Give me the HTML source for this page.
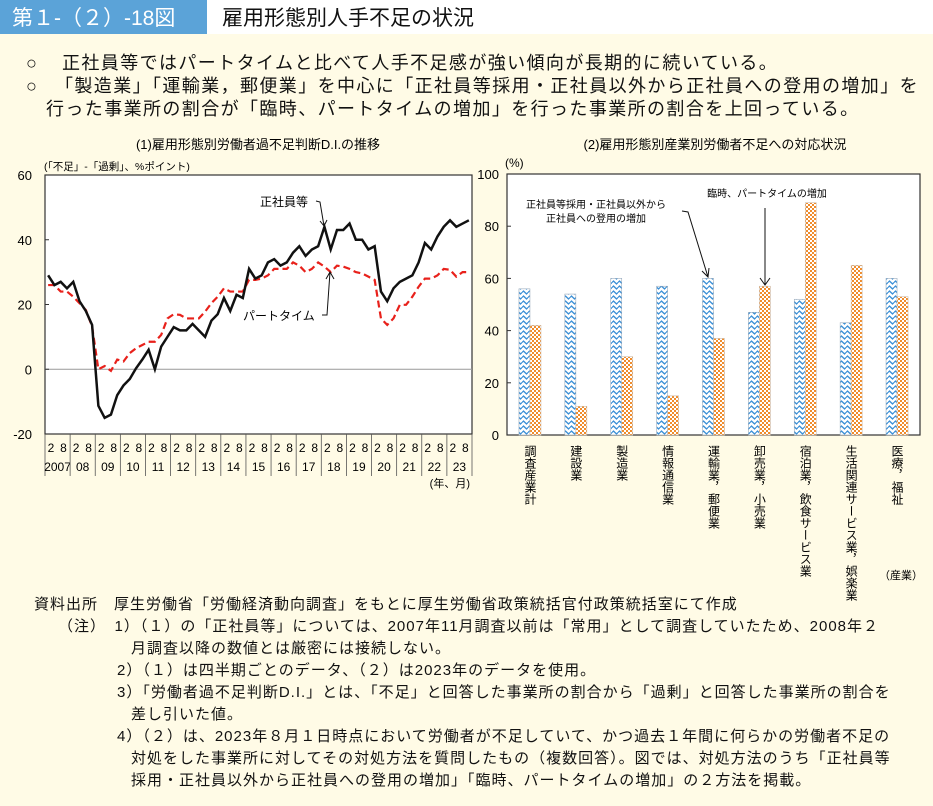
<!DOCTYPE html>
<html><head><meta charset="utf-8"><style>
body{margin:0;background:#fffbe6;}
svg{display:block;font-family:"Liberation Sans","Noto Sans CJK JP",sans-serif;}
</style></head><body>
<svg id="svg" width="933" height="806" viewBox="0 0 933 806" xmlns="http://www.w3.org/2000/svg">
<defs>
<pattern id="wave" width="6" height="5" patternUnits="userSpaceOnUse">
<rect width="6" height="5" fill="#fff"/>
<path d="M0,2.5 L1.5,1 L3,2.5 L4.5,4 L6,2.5" stroke="#3a8fd6" stroke-width="1.3" fill="none"/>
</pattern>
<pattern id="check" width="4" height="4" patternUnits="userSpaceOnUse">
<rect width="4" height="4" fill="#fff"/>
<rect width="2" height="2" fill="#f08c2c"/><rect x="2" y="2" width="2" height="2" fill="#f08c2c"/>
</pattern>
</defs>
<rect width="933" height="806" fill="#fffbe6"/>
<rect x="0" y="0" width="207" height="34" fill="#5ba3d8"/>
<rect x="207" y="0" width="726" height="34" fill="#fff"/>
<text x="12" y="25" font-size="21" fill="#fff">第１-（２）-18図</text>
<text x="222" y="25" font-size="21" fill="#111">雇用形態別人手不足の状況</text>
<g font-size="18" fill="#111" letter-spacing="1.4">
<text x="26" y="69">○</text>
<text x="62" y="69">正社員等ではパートタイムと比べて人手不足感が強い傾向が長期的に続いている。</text>
<text x="26" y="92">○</text>
<text x="55" y="92">「製造業」「運輸業，郵便業」を中心に「正社員等採用・正社員以外から正社員への登用の増加」を</text>
<text x="46" y="115">行った事業所の割合が「臨時、パートタイムの増加」を行った事業所の割合を上回っている。</text>
</g>
<text x="258" y="149" font-size="13" text-anchor="middle">(1)雇用形態別労働者過不足判断D.I.の推移</text>
<text x="715" y="149" font-size="13" text-anchor="middle">(2)雇用形態別産業別労働者不足への対応状況</text>
<text x="44" y="170" font-size="10.5">(「不足」-「過剰」、%ポイント)</text>
<g id="left"></g>
<g id="right"></g>
<g font-size="15" fill="#111" letter-spacing="1.0">
<text x="34" y="609">資料出所　厚生労働省「労働経済動向調査」をもとに厚生労働省政策統括官付政策統括室にて作成</text>
<text x="58" y="631">（注）　1）（１）の「正社員等」については、2007年11月調査以前は「常用」として調査していたため、2008年２</text>
<text x="131" y="653">月調査以降の数値とは厳密には接続しない。</text>
<text x="117" y="675">2）（１）は四半期ごとのデータ、（２）は2023年のデータを使用。</text>
<text x="117" y="697">3）「労働者過不足判断D.I.」とは、「不足」と回答した事業所の割合から「過剰」と回答した事業所の割合を</text>
<text x="131" y="719">差し引いた値。</text>
<text x="117" y="741">4）（２）は、2023年８月１日時点において労働者が不足していて、かつ過去１年間に何らかの労働者不足の</text>
<text x="131" y="763">対処をした事業所に対してその対処方法を質問したもの（複数回答）。図では、対処方法のうち「正社員等</text>
<text x="131" y="785">採用・正社員以外から正社員への登用の増加」「臨時、パートタイムの増加」の２方法を掲載。</text>
</g>
</svg>
<script>
const years=['2007','08','09','10','11','12','13','14','15','16','17','18','19','20','21','22','23'];
const leftTicks=[60,40,20,0,-20];
const seishain=[29,26,27,25,27,21,18,13.7,-11.3,-15,-14,-8,-5,-3,0.3,3,6,0,7,10,13,12,12,14,12,10,15,17,22,18,23,22,31,28,29,33,34,32,33,36,38,35,37,38,44,37,43,43,45,40,40,37,38,24,21,25,27,28,29,33,39,37,41,44,46,44,45,46];
const part=[26,26,24,24,22.4,20.4,18.3,13.2,0,1,-0.5,3,2.4,5,6.5,7.5,8.5,8.5,10.6,15.7,17,16.8,15.7,15.7,15.7,17.8,20.4,22.4,25,24,24,24,27.6,27.6,28,29,31,31,31,33,32,30,31,33,31.7,30,32,31.7,31,30,29.6,28.6,27.6,15.7,13.7,15.7,19.9,19.9,22.4,25.5,28,28,29,31,30.7,28.6,30,30];
const industries=['調査産業計','建設業','製造業','情報通信業','運輸業，郵便業','卸売業，小売業','宿泊業，飲食サービス業','生活関連サービス業，娯楽業','医療，福祉'];
const regularHire=[56,54,60,57,60,47,52,43,60];
const partHire=[42,11,30,15,37,57,89,65,53];
const rightTicks=[100,80,60,40,20,0];

const NS='http://www.w3.org/2000/svg';
function mk(p,tag,a,txt){const e=document.createElementNS(NS,tag);for(const k in a)e.setAttribute(k,a[k]);if(txt!==undefined)e.textContent=txt;p.appendChild(e);return e;}

// LEFT
const L=document.getElementById('left');
const lx0=45,lx1=472,ly0=175,ly1=434;
const ly=v=>ly1-(v-(-20))/80*(ly1-ly0);
const n=seishain.length;
const lx=i=>lx0+(i+0.5)*(lx1-lx0)/n;
let r=mk(L,'rect',{x:lx0,y:ly0,width:lx1-lx0,height:ly1-ly0,fill:'#fff',stroke:'#333','stroke-width':1.2});

let z=mk(L,'line',{x1:lx0,x2:lx1,y1:ly(0),y2:ly(0),stroke:'#999','stroke-width':1});

leftTicks.forEach(t=>{let e=mk(L,'text',{x:32,y:ly(t)+5,'font-size':13,'text-anchor':'end'},String(t));

mk(L,'line',{x1:lx0,x2:lx0+4,y1:ly(t),y2:ly(t),stroke:'#333'});});
const yw=(lx1-lx0)/years.length;
years.forEach((y,i)=>{const xs=lx0+i*yw;
mk(L,'line',{x1:xs,x2:xs,y1:ly1,y2:ly1+42,stroke:'#555','stroke-width':0.8});
let a=mk(L,'text',{x:xs+6,y:ly1+18,'font-size':12,'text-anchor':'middle'},'2');

let b=mk(L,'text',{x:xs+18.5,y:ly1+18,'font-size':12,'text-anchor':'middle'},'8');

let c=mk(L,'text',{x:xs+yw/2,y:ly1+37,'font-size':12,'text-anchor':'middle'},y);
});
mk(L,'line',{x1:lx1,x2:lx1,y1:ly1,y2:ly1+42,stroke:'#555','stroke-width':0.8});
let yu=mk(L,'text',{x:lx1-2,y:ly1+53,'font-size':11,'text-anchor':'end'},'(年、月)');

let p1=mk(L,'polyline',{points:part.map((v,i)=>lx(i)+','+ly(v)).join(' '),fill:'none',stroke:'#e8211b','stroke-width':2.2,'stroke-dasharray':'7,4'});

let p2=mk(L,'polyline',{points:seishain.map((v,i)=>lx(i)+','+ly(v)).join(' '),fill:'none',stroke:'#111','stroke-width':2.5});

let t1=mk(L,'text',{x:260,y:206,'font-size':12},'正社員等');

mk(L,'path',{d:'M316,201 L320,202 L324,226 M320,221 L324,226 L327,220',fill:'none',stroke:'#111','stroke-width':1});
let t2=mk(L,'text',{x:243,y:320,'font-size':12},'パートタイム');

mk(L,'path',{d:'M322,315 L327,315 L330,272 M326,279 L330,272 L334,279',fill:'none',stroke:'#111','stroke-width':1});

// RIGHT
const R=document.getElementById('right');
const rx0=507,rx1=920,ry0=174,ry1=435;
const ry=v=>ry1-v/100*(ry1-ry0);
let rr=mk(R,'rect',{x:rx0,y:ry0,width:rx1-rx0,height:ry1-ry0,fill:'#fff',stroke:'#333','stroke-width':1.2});

rightTicks.forEach(t=>{let e=mk(R,'text',{x:499,y:ry(t)+5,'font-size':13,'text-anchor':'end'},String(t));

mk(R,'line',{x1:rx0,x2:rx0+4,y1:ry(t),y2:ry(t),stroke:'#333'});});
let pu=mk(R,'text',{x:505,y:167,'font-size':12},'(%)');

const cw=(rx1-rx0)/industries.length,bw=11;
industries.forEach((c,i)=>{const cx=rx0+(i+0.5)*cw;
let b1=mk(R,'rect',{x:cx-bw,y:ry(regularHire[i]),width:bw,height:ry1-ry(regularHire[i]),fill:'url(#wave)',stroke:'#9ab','stroke-width':0.6});

let b2=mk(R,'rect',{x:cx,y:ry(partHire[i]),width:bw,height:ry1-ry(partHire[i]),fill:'url(#check)',stroke:'#cba','stroke-width':0.6});

let l=mk(R,'text',{x:cx,y:ry1+10,'font-size':12,'writing-mode':'vertical-rl','glyph-orientation-vertical':0},c);
});
let a1=mk(R,'text',{x:596,y:208,'font-size':10,'text-anchor':'middle'},'正社員等採用・正社員以外から');

mk(R,'text',{x:596,y:222,'font-size':10,'text-anchor':'middle'},'正社員への登用の増加');
mk(R,'path',{d:'M682,211 L688,212 L708,277 M702,271 L708,277 L709,268',fill:'none',stroke:'#111','stroke-width':1});
let a2=mk(R,'text',{x:767,y:197,'font-size':10,'text-anchor':'middle'},'臨時、パートタイムの増加');

mk(R,'path',{d:'M765,208 L765,285 M760,278 L765,285 L770,278',fill:'none',stroke:'#111','stroke-width':1});
let iu=mk(R,'text',{x:923,y:579,'font-size':11,'text-anchor':'end'},'（産業）');

</script>
</body></html>
